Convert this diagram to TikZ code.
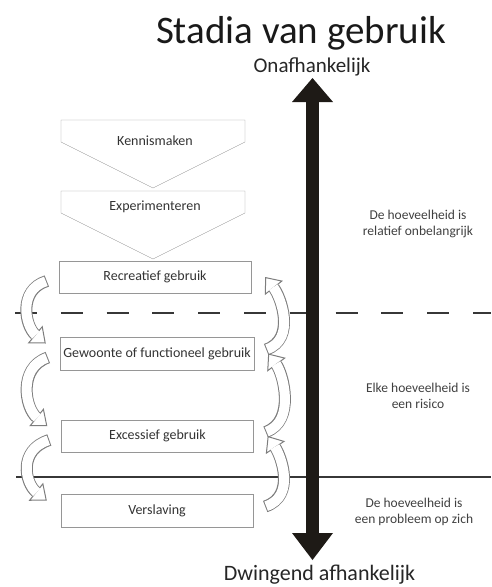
\documentclass[tikz,border=0pt]{standalone}
\usepackage{fontspec}
\setmainfont{Carlito}
\usetikzlibrary{arrows.meta}
\definecolor{arrowdark}{RGB}{30,26,22}
\definecolor{linegray}{RGB}{55,55,55}
\definecolor{outlinegray}{RGB}{150,150,150}
\definecolor{bandgray}{RGB}{125,125,125}

\tikzset{
 stagebox/.style={draw=outlinegray, minimum width=192pt, minimum height=32pt, inner sep=0pt, text=black!80, font=\fontsize{14}{16}\selectfont},
 chevron/.style={draw=outlinegray, line join=miter},
 stagetext/.style={text=black!80, font=\fontsize{14}{16}\selectfont},
 sidetext/.style={align=center, text=black!75, font=\fontsize{13.5}{16}\selectfont},
 cyclearrow/.style={white, line width=10pt, shorten >=13pt, shorten <=1pt,
  preaction={draw=bandgray, line width=12pt, shorten >=0pt, shorten <=0pt,
   -{Triangle[length=14pt,width=23pt,fill=white,line width=1pt]}}},
}

\begin{document}
\begin{tikzpicture}[x=1pt,y=-1pt]
 \useasboundingbox (0,0) rectangle (491,587);
 % headings
 \node[anchor=base, font=\fontsize{39}{42}\selectfont, text=black!90] (title) at (301,43) {Stadia van gebruik};
 \node[anchor=base, font=\fontsize{21}{24}\selectfont, text=black!85] (onaf) at (312,72) {Onafhankelijk};
 \node[anchor=base, font=\fontsize{22}{25}\selectfont, text=black!85] (dwing) at (319.5,580) {Dwingend afhankelijk};

 % zone borders
 \draw[linegray, line width=2pt, dash pattern=on 22pt off 23.8pt] (15,313) -- (491,313);
 \draw[linegray, line width=1.5pt] (16,477) -- (491,477);

 % big arrow
 \coordinate (uptip) at (312.5,78);
 \coordinate (downtip) at (312.5,560);
 \draw[arrowdark, line width=13pt, {Triangle[length=24pt,width=41pt,line width=0pt]}-{Triangle[length=27pt,width=41pt,line width=0pt]}] (uptip) -- (downtip);

 % first stages
 \draw[chevron] (61,120) -- (245,120) -- (245,142) -- (153,188) -- (61,142) -- cycle;
 \node[stagetext] (kennis) at (155,141) {Kennismaken};
 \draw[chevron] (61,191) -- (245,191) -- (245,213) -- (153,259) -- (61,213) -- cycle;
 \node[stagetext] (exper) at (155,207) {Experimenteren};

 % stages of use
 \node[stagebox] (rec) at (155,277) {Recreatief gebruik};
 \node[stagebox, minimum width=194pt, minimum height=33pt] (gew) at (157,353.5) {Gewoonte of functioneel gebruik};
 \node[stagebox] (exc) at (157.5,436) {Excessief gebruik};
 \node[stagebox, minimum height=33pt] (ver) at (157,510.5) {Verslaving};

 % zone texts
 \node[sidetext] (zone1) at (418,223.5) {De hoeveelheid is\\relatief onbelangrijk};
 \node[sidetext] (zone2) at (418,395.5) {Elke hoeveelheid is\\een risico};
 \node[sidetext] (zone3) at (414,512) {De hoeveelheid is\\een probleem op zich};

 % down on the left
 \draw[cyclearrow] ([shift={(-12,4)}]rec.west) .. controls (18,290) and (25,326) .. ([shift={(-14,-10)}]gew.west);
 \draw[cyclearrow] ([shift={(-12,4)}]gew.west) .. controls (18,368) and (25,408) .. ([shift={(-14,-10)}]exc.west);
 \draw[cyclearrow] ([shift={(-12,4)}]exc.west) .. controls (18,450) and (25,483) .. ([shift={(-14,-10)}]ver.west);

 % up on the right
 \draw[cyclearrow] ([shift={(12,-4)}]gew.east) .. controls (296,339) and (281,297) .. ([shift={(14,0)}]rec.east);
 \draw[cyclearrow] ([shift={(12,-4)}]exc.east) .. controls (296,421) and (283,373.5) .. ([shift={(14,0)}]gew.east);
 \draw[cyclearrow] ([shift={(12,-4)}]ver.east) .. controls (296,496) and (281,456) .. ([shift={(14,0)}]exc.east);
\end{tikzpicture}
\end{document}
